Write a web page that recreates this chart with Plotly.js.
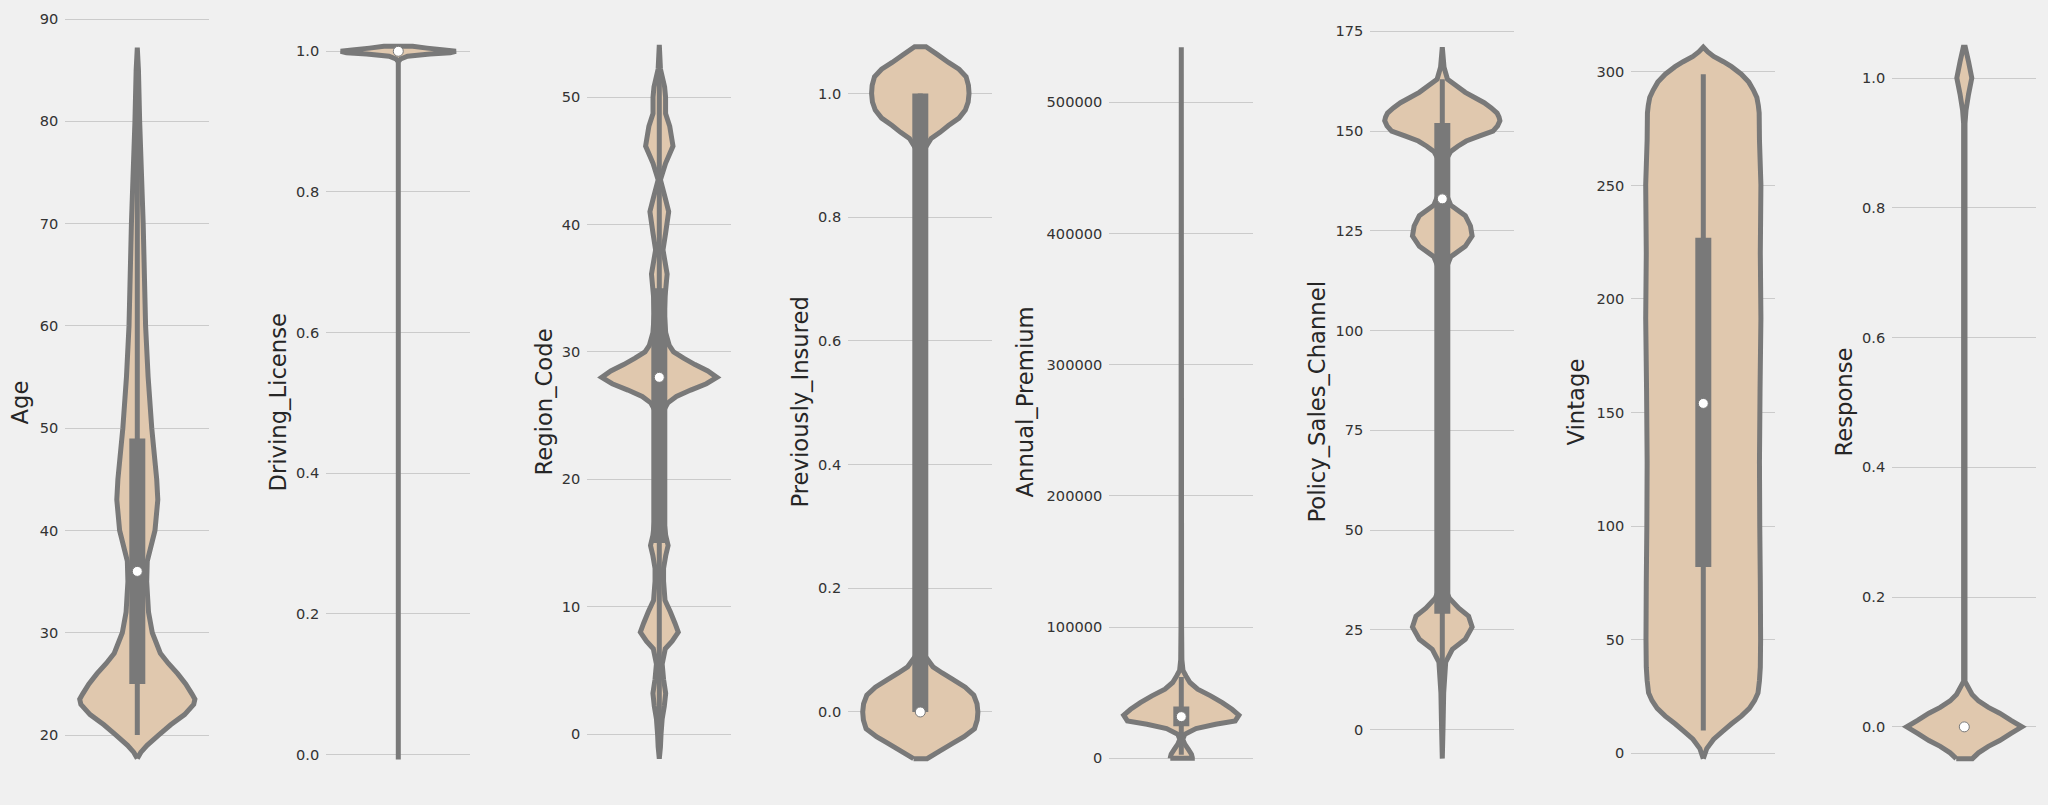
<!DOCTYPE html>
<html>
<head>
<meta charset="utf-8">
<script src="https://cdn.plot.ly/plotly-3.0.1.min.js"></script>
<style>
  html, body { margin: 0; padding: 0; background: #f0f0f0; }
  #chart { width: 2048px; height: 805px; }
</style>
</head>
<body>
<div id="chart"></div>
<script>
// ---- Data (density profiles: relative density, widest point = 1) ----
const featureNames = ['Age', 'Driving_License', 'Region_Code', 'Previously_Insured',
                      'Annual_Premium', 'Policy_Sales_Channel', 'Vintage', 'Response'];

const ageGrid    = [17.7, 18.3, 19, 20, 21, 22, 23, 23.5, 24, 25, 26, 27, 28, 30, 32, 35, 37, 40, 43, 45, 50, 55, 60, 70, 80, 85, 87.2];
const ageDensity = [0, 0.06, 0.17, 0.37, 0.58, 0.82, 0.98, 1.0, 0.95, 0.84, 0.70, 0.54, 0.40, 0.26, 0.195, 0.163, 0.173, 0.307, 0.356, 0.337, 0.251, 0.188, 0.144, 0.102, 0.041, 0.02, 0];

const drivingGrid    = [-0.007, 0.985, 0.989, 0.993, 0.996, 0.998, 1.0, 1.002, 1.0045, 1.007];
const drivingDensity = [0, 0, 0.04, 0.16, 0.55, 0.9, 1.0, 0.8, 0.5, 0.25];

const regionGrid    = [-1.93, -1, 0, 1.2, 2.2, 3.2, 4.3, 5.5, 6.7, 7.3, 8, 8.7, 9.6, 10.5, 12, 13, 14, 14.8, 15.6, 17, 20, 23, 25, 25.5, 26, 26.5, 27, 27.5, 28, 28.5, 29, 29.5, 30, 30.5, 31.5, 33, 34.3, 36.1, 38, 39.3, 41, 42.15, 43.5, 44.8, 46.15, 47.7, 48.7, 50, 50.8, 52.2, 54.1];
const regionDensity = [0, 0.02, 0.03, 0.05, 0.087, 0.111, 0.074, 0.05, 0.104, 0.223, 0.329, 0.272, 0.191, 0.099, 0.074, 0.074, 0.111, 0.153, 0.111, 0.074, 0.074, 0.074, 0.074, 0.087, 0.149, 0.297, 0.545, 0.817, 1, 0.842, 0.619, 0.421, 0.248, 0.173, 0.111, 0.087, 0.099, 0.136, 0.064, 0.109, 0.163, 0.099, 0.02, 0.109, 0.238, 0.181, 0.109, 0.109, 0.092, 0.02, 0];

const prevGrid    = [-0.0755, -0.063, -0.05, -0.04, -0.027, -0.013, 0, 0.013, 0.027, 0.04, 0.052, 0.063, 0.073, 0.09, 0.11, 0.14,
                     0.86, 0.89, 0.91, 0.927, 0.937, 0.948, 0.96, 0.973, 0.986, 1.0, 1.013, 1.027, 1.039, 1.05, 1.063, 1.0755];
const prevDensity = [0.117, 0.342, 0.575, 0.76, 0.941, 0.988, 1, 0.985, 0.929, 0.78, 0.577, 0.38, 0.22, 0.086, 0.029, 0,
                     0, 0.024, 0.073, 0.188, 0.342, 0.489, 0.672, 0.782, 0.831, 0.846, 0.836, 0.795, 0.672, 0.489, 0.293, 0.098];

const premiumGrid    = [0, 530, 3050, 6860, 10700, 14500, 18300, 22600, 25900, 28400, 32800, 37300, 42400, 47500, 52600, 57700, 62700, 67000, 75000, 100000, 541800];
const premiumDensity = [0.191, 0.191, 0.176, 0.12, 0.061, 0.025, 0.061, 0.255, 0.596, 0.936, 1, 0.88, 0.711, 0.51, 0.284, 0.15, 0.081, 0.029, 0.01, 0.005, 0];

const channelGrid    = [-7.3, 0, 9.1, 16.9, 20.1, 22.6, 25.7, 28.4, 30.4, 32.9, 35, 40, 60, 80, 100, 113, 115.9, 118.5, 121.1, 123.7, 126.2, 128.8, 131.4, 134, 140, 143,
                        144.9, 146.2, 147.5, 148.8, 150, 151.3, 152.6, 153.5, 154.5, 155.8, 157.1, 158.4, 159.7, 161.3, 163, 166, 171];
const channelDensity = [0, 0.012, 0.024, 0.059, 0.174, 0.399, 0.518, 0.457, 0.286, 0.122, 0.061, 0.049, 0.049, 0.049, 0.049, 0.061, 0.073, 0.147, 0.399, 0.518, 0.489, 0.399, 0.147, 0.073, 0.073, 0.073,
                        0.147, 0.27, 0.416, 0.65, 0.88, 0.96, 1, 0.985, 0.951, 0.85, 0.726, 0.56, 0.399, 0.25, 0.09, 0.03, 0];

const vintageGrid    = [-2.5, 2, 6.1, 9.5, 12.9, 16.3, 19.7, 23.1, 26.5, 32, 37.8, 50, 75, 100, 128, 160, 191.5, 220, 250.3, 270,
                        281.9, 285.3, 288.7, 292, 295.5, 299, 302.3, 304.5, 306.8, 308.8, 310.9];
const vintageDensity = [0, 0.06, 0.18, 0.33, 0.49, 0.66, 0.80, 0.89, 0.95, 0.975, 0.99, 0.995, 0.99, 0.98, 0.975, 0.985, 1.0, 0.99, 1.0, 0.975,
                        0.97, 0.955, 0.93, 0.87, 0.79, 0.66, 0.49, 0.35, 0.18, 0.08, 0];

const responseGrid    = [-0.049, -0.04, -0.03, -0.021, -0.01, 0, 0.01, 0.021, 0.03, 0.04, 0.05, 0.07, 0.93, 0.95, 0.975, 1.0, 1.025, 1.0475];
const responseDensity = [0.14, 0.246, 0.418, 0.614, 0.811, 1, 0.811, 0.614, 0.418, 0.246, 0.135, 0.012, 0.012, 0.029, 0.074, 0.13, 0.074, 0.017];

// box statistics: [lower whisker, Q1, median, Q3, upper whisker]
const ageBox      = [20, 25, 36, 49, 85];
const drivingBox  = [1, 1, 1, 1, 1];
const regionBox   = [0, 15, 28, 35, 52];
const prevBox     = [0, 0, 0, 1, 1];
const premiumBox  = [2630, 24405, 31669, 39400, 61892];
const channelBox  = [1, 29, 133, 152, 163];
const vintageBox  = [10, 82, 154, 227, 299];
const responseBox = [0, 0, 0, 0, 0];

// ---- Styling / layout ----
const FILL = '#e0c8ae', GRAY = '#797979', BG = '#f0f0f0';
const HALF = 0.4;   // seaborn violin half-width (width=0.8)
const W = 2048, H = 805;

const panels = [
  {grid: ageGrid,      dens: ageDensity,      box: ageBox,      range: [14.14, 90.88],      dtick: 10,     fmt: '',    labelX: 19},
  {grid: drivingGrid,  dens: drivingDensity,  box: drivingBox,  range: [-0.0574, 1.0587],   dtick: 0.2,    fmt: '.1f', labelX: 277},
  {grid: regionGrid,   dens: regionDensity,   box: regionBox,   range: [-4.78, 56.83],      dtick: 10,     fmt: '',    labelX: 543},
  {grid: prevGrid,     dens: prevDensity,     box: prevBox,     range: [-0.1342, 1.1348],   dtick: 0.2,    fmt: '.1f', labelX: 799},
  {grid: premiumGrid,  dens: premiumDensity,  box: premiumBox,  range: [-28049, 570274],    dtick: 100000, fmt: 'd',   labelX: 1024},
  {grid: channelGrid,  dens: channelDensity,  box: channelBox,  range: [-16.42, 180.34],    dtick: 25,     fmt: '',    labelX: 1316},
  {grid: vintageGrid,  dens: vintageDensity,  box: vintageBox,  range: [-18.45, 327.26],    dtick: 50,     fmt: '',    labelX: 1575},
  {grid: responseGrid, dens: responseDensity, box: responseBox, range: [-0.105, 1.1048],    dtick: 0.2,    fmt: '.1f', labelX: 1843}
];

const traces = [];
const layout = {
  width: W, height: H, autosize: false,
  paper_bgcolor: BG, plot_bgcolor: BG,
  margin: {l: 0, r: 0, t: 10, b: 10, pad: 0},
  showlegend: false,
  font: {family: 'DejaVu Sans', color: '#333333'},
  annotations: []
};

panels.forEach((p, i) => {
  const k = i === 0 ? '' : String(i + 1);
  const xa = 'x' + k, ya = 'y' + k;
  const center = 137.3 + 261 * i;

  // violin outline: left side going up, right side coming down, closed
  const vx = [], vy = [];
  for (let j = 0; j < p.grid.length; j++) { vx.push(-p.dens[j] * HALF); vy.push(p.grid[j]); }
  for (let j = p.grid.length - 1; j >= 0; j--) { vx.push(p.dens[j] * HALF); vy.push(p.grid[j]); }
  vx.push(vx[0]); vy.push(vy[0]);

  traces.push({
    type: 'scatter', mode: 'lines', x: vx, y: vy, xaxis: xa, yaxis: ya,
    fill: 'toself', fillcolor: FILL,
    line: {color: GRAY, width: 5, shape: 'linear', simplify: false},
    hoverinfo: 'skip'
  });
  // whiskers
  traces.push({
    type: 'scatter', mode: 'lines', x: [0, 0], y: [p.box[0], p.box[4]], xaxis: xa, yaxis: ya,
    line: {color: GRAY, width: 5}, hoverinfo: 'skip'
  });
  // box (Q1-Q3)
  traces.push({
    type: 'scatter', mode: 'lines', x: [0, 0], y: [p.box[1], p.box[3]], xaxis: xa, yaxis: ya,
    line: {color: GRAY, width: 16}, hoverinfo: 'skip'
  });
  // median
  traces.push({
    type: 'scatter', mode: 'markers', x: [0], y: [p.box[2]], xaxis: xa, yaxis: ya,
    marker: {color: 'white', size: 10, line: {color: GRAY, width: 1}}, hoverinfo: 'skip'
  });

  layout['xaxis' + k] = {
    domain: [(center - 72) / W, (center + 72) / W], range: [-0.5, 0.5],
    visible: false, fixedrange: true, anchor: ya
  };
  layout['yaxis' + k] = {
    domain: [0, 1], range: p.range, anchor: xa,
    tick0: 0, dtick: p.dtick, tickformat: p.fmt,
    showgrid: true, gridcolor: '#cbcbcb', gridwidth: 1,
    zeroline: false, showline: false, ticks: '',
    ticklabelstandoff: 6,
    tickfont: {family: 'DejaVu Sans', size: 14.6, color: '#333333'},
    fixedrange: true
  };
  layout.annotations.push({
    text: featureNames[i], xref: 'paper', yref: 'paper',
    x: p.labelX / W, y: 0.5, xanchor: 'center', yanchor: 'middle',
    textangle: -90, showarrow: false,
    font: {family: 'DejaVu Sans', size: 22.7, color: '#262626'}
  });
});

Plotly.newPlot('chart', traces, layout, {staticPlot: true, displayModeBar: false});
</script>
</body>
</html>
